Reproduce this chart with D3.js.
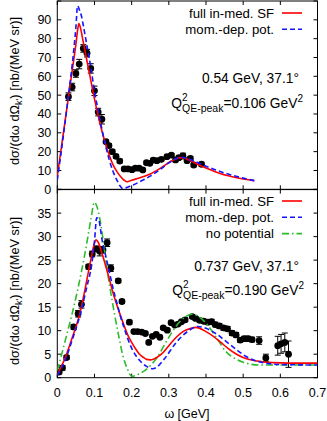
<!DOCTYPE html>
<html><head><meta charset="utf-8">
<script src="https://cdn.jsdelivr.net/npm/d3@7"></script>
<style>body{margin:0;background:#fff}svg{display:block}text{font-family:"Liberation Sans",Arial,sans-serif;fill:#000}</style>
</head><body>
<script>
// ---------- data ----------
const xTicks = [0,0.1,0.2,0.3,0.4,0.5,0.6,0.7];
const xTickLabels = ["0","0.1","0.2","0.3","0.4","0.5","0.6","0.7"];
const topYTicks = [0,10,20,30,40,50,60,70,80,90];
const botYTicks = [0,5,10,15,20,25,30,35];

// top panel: 0.54 GeV
const topDataW = [0.030,0.040,0.050,0.059,0.070,0.080,0.090,0.100,0.110,0.120,0.131,0.139,0.148,0.158,0.168,0.180,0.190,0.201,0.210,0.220,0.230,0.240,0.249,0.258,0.268,0.280,0.295,0.307,0.318,0.327,0.338,0.349,0.358,0.367,0.388];
const topDataV = [49.2,54.3,61.5,66.5,74.8,72.3,64.2,52.3,41.0,37.2,25.3,23.2,20.0,17.5,15.0,10.8,10.8,10.4,11.2,11.2,10.3,14.1,13.8,15.5,15.2,15.9,17.3,18.2,15.6,16.8,17.7,15.2,16.4,12.9,13.3];
const topDataE = [2,2,2,2.5,2,2,2.5,2.5,2,2.5,1,1,1,1,1,0.8,0.8,0.8,0.8,0.8,0.8,0.8,0.8,0.8,0.8,0.8,0.8,0.8,1,1,1.5,1,1,1,1];

const topRedW = [0,0.01,0.02,0.03,0.04,0.05,0.055,0.058,0.062,0.07,0.08,0.09,0.1,0.11,0.12,0.13,0.14,0.15,0.16,0.17,0.18,0.188,0.2,0.22,0.25,0.28,0.3,0.32,0.33,0.34,0.36,0.38,0.4,0.44,0.48,0.53];
const topRedV = [7,21,35,49,63,77,85,88,86,78,68,58,48,39,31,24,18,13,9.5,6.8,4.8,4.0,4.8,6.0,8.1,11.5,14.2,16.2,16.8,16.6,15.0,13.0,11.3,8.3,6.3,4.6];
const topBlueW = [0,0.01,0.02,0.03,0.04,0.05,0.0546,0.06,0.065,0.07,0.08,0.09,0.1,0.11,0.12,0.13,0.14,0.15,0.16,0.17,0.175,0.18,0.2,0.22,0.25,0.28,0.3,0.32,0.335,0.35,0.38,0.4,0.44,0.49,0.53];
const topBlueV = [5,19,34,50,66,86,97.5,95,92,87,76,65,52,42,32,23,15.5,9.5,5,1.5,0.5,0.6,2,3.8,7,11,14,16.3,17,16.3,14,12.3,9.3,6.4,4.6];

// bottom panel: 0.737 GeV
const botDataW = [0.005,0.014,0.025,0.044,0.056,0.065,0.084,0.094,0.105,0.114,0.123,0.134,0.144,0.164,0.174,0.194,0.206,0.216,0.227,0.237,0.246,0.256,0.266,0.276,0.285,0.296,0.306,0.316,0.325,0.334,0.344,0.363,0.372,0.383,0.394,0.405,0.415,0.425,0.436,0.447,0.458,0.470,0.481,0.492,0.503,0.513,0.524,0.543,0.561,0.593,0.602,0.612,0.622];
const botDataV = [1.2,2.1,4.3,10.8,13.6,15.6,23.6,26.3,27.4,26.9,27.2,28.7,23.3,20.6,16.2,11.8,9.8,9.8,9.7,9.4,7.5,8.8,9.2,8.6,10.6,10.1,11.7,11.2,11.4,11.9,12.3,13.0,12.6,12.2,12.0,11.8,11.9,11.3,11.0,10.6,10.4,9.5,9.1,8.0,8.3,8.3,8.1,7.9,4.2,6.8,7.2,7.5,5.0];
const botDataE = [0.4,0.5,0.4,0.5,0.7,0.8,0.5,0.6,0.6,1.0,0.7,0.8,0.7,0.4,0.4,0.4,0.3,0.3,0.3,0.3,0.3,0.3,0.3,0.3,0.3,0.3,0.3,0.3,0.3,0.3,0.4,0.4,0.4,0.4,0.4,0.5,0.5,0.5,0.5,0.5,0.5,0.5,0.5,0.5,0.5,0.5,0.5,0.8,0.8,2.0,2.0,2.0,2.8];

const botRedW = [0,0.02,0.04,0.06,0.07,0.08,0.09,0.1,0.104,0.11,0.12,0.13,0.14,0.15,0.16,0.17,0.18,0.19,0.2,0.21,0.22,0.23,0.24,0.25,0.26,0.28,0.3,0.32,0.34,0.36,0.372,0.38,0.4,0.42,0.44,0.46,0.48,0.5,0.52,0.55,0.58,0.62,0.7];
const botRedV = [0.7,4,8.5,13.5,17,21,25,28.6,29.3,28.8,26.5,23.8,21,18,15.5,13.2,11,9,7.5,6.2,5.1,4.4,3.9,3.8,4.0,5.0,6.8,8.6,9.9,10.5,10.7,10.6,9.8,8.8,7.5,6.2,5.1,4.3,3.8,3.4,3.2,3.1,3.1];
const botBlueW = [0,0.02,0.04,0.06,0.08,0.092,0.1,0.106,0.112,0.12,0.13,0.14,0.15,0.16,0.17,0.18,0.19,0.2,0.22,0.24,0.257,0.27,0.29,0.32,0.35,0.378,0.4,0.43,0.454,0.48,0.5,0.52,0.543,0.57,0.6,0.7];
const botBlueV = [0.5,3.5,8,13,19.5,23.8,29,34,33.5,29.5,26,22.5,19,16,13,10.5,8.2,6.3,3.8,2.4,1.9,2.4,4.2,7.5,9.8,10.9,10.5,9.2,7.7,6.1,4.9,4.0,3.4,3.0,2.8,2.7];
const botGreenW = [0,0.025,0.05,0.078,0.09,0.1,0.106,0.114,0.122,0.131,0.142,0.154,0.165,0.176,0.188,0.2,0.22,0.247,0.27,0.292,0.32,0.345,0.362,0.38,0.4,0.43,0.454,0.48,0.5,0.543,0.6,0.7];
const botGreenV = [1.5,9,17,28,33.5,37.3,36.5,34,30,24.7,19,13.5,9,4.8,2,0.3,0.8,2.3,4.5,7.5,11,13,13.5,13,11.6,8.3,5.5,4,3.3,2.7,2.7,2.7];

const legendTop = ["full in-med. SF","mom.-dep. pot."];
const legendBot = ["full in-med. SF","mom.-dep. pot.","no potential"];

// ---------- drawing ----------
const W=327,H=421;
const svg=d3.select("body").append("svg").attr("width",W).attr("height",H);
const X0=57.3, X1=317.5;
const x=d3.scaleLinear().domain([0,0.7]).range([X0,X1]);
const yTop=d3.scaleLinear().domain([0,100]).range([189.3,1]);
const yBot=d3.scaleLinear().domain([0,40]).range([377.7,189.6]);
const RED="#ff0000", BLUE="#1515ff", GREEN="#2dbb2d";
const FS=12.5, FL=13.2, FA=13.8;

function zip(a,b){return a.map((v,i)=>[v,b[i]]);}

function panel(y,yticks,id){
  const g=svg.append("g");
  svg.append("clipPath").attr("id",id).append("rect")
    .attr("x",X0).attr("y",y.range()[1]).attr("width",X1-X0).attr("height",y.range()[0]-y.range()[1]);
  const tl=4;
  const allY=d3.range(y.domain()[0],y.domain()[1]+0.001,yticks[1]-yticks[0]);
  allY.forEach(v=>{
    g.append("line").attr("x1",X0).attr("x2",X0+tl).attr("y1",y(v)).attr("y2",y(v)).attr("stroke","#000");
    g.append("line").attr("x1",X1).attr("x2",X1-tl).attr("y1",y(v)).attr("y2",y(v)).attr("stroke","#000");
  });
  xTicks.forEach(v=>{
    g.append("line").attr("x1",x(v)).attr("x2",x(v)).attr("y1",y.range()[0]).attr("y2",y.range()[0]-tl).attr("stroke","#000");
    g.append("line").attr("x1",x(v)).attr("x2",x(v)).attr("y1",y.range()[1]).attr("y2",y.range()[1]+tl).attr("stroke","#000");
  });
  yticks.forEach(v=>{
    g.append("text").attr("x",X0-6).attr("y",y(v)).attr("dy","0.36em").attr("text-anchor","end")
      .attr("font-size",FS).text(v);
  });
  g.append("rect").attr("x",X0).attr("y",y.range()[1]).attr("width",X1-X0).attr("height",y.range()[0]-y.range()[1])
    .attr("fill","none").attr("stroke","#000").attr("stroke-width",1);
  return g;
}

function points(g,y,W_,V,E,clip){
  const pg=g.append("g").attr("clip-path",`url(#${clip})`);
  W_.forEach((w,i)=>{
    const cx=x(w), cy=y(V[i]);
    const y1=y(V[i]-E[i]), y2=y(V[i]+E[i]);
    pg.append("line").attr("x1",cx).attr("x2",cx).attr("y1",y1).attr("y2",y2).attr("stroke","#000");
    pg.append("line").attr("x1",cx-3).attr("x2",cx+3).attr("y1",y1).attr("y2",y1).attr("stroke","#000");
    pg.append("line").attr("x1",cx-3).attr("x2",cx+3).attr("y1",y2).attr("y2",y2).attr("stroke","#000");
    pg.append("circle").attr("cx",cx).attr("cy",cy).attr("r",3.4).attr("fill","#000");
  });
}
function curve(g,y,W_,V,color,dash,clip){
  const line=d3.line().x(d=>x(d[0])).y(d=>y(d[1])).curve(d3.curveMonotoneX);
  g.append("path").attr("clip-path",`url(#${clip})`).attr("d",line(zip(W_,V)))
    .attr("fill","none").attr("stroke",color).attr("stroke-width",1.6)
    .attr("stroke-dasharray",dash||null);
}
function legend(g,items,colors,dashes,y0){
  items.forEach((t,i)=>{
    const yy=y0+i*16.3;
    g.append("text").attr("x",274).attr("y",yy).attr("dy","0.36em").attr("text-anchor","end")
      .attr("font-size",FL).text(t);
    g.append("line").attr("x1",282).attr("x2",302).attr("y1",yy).attr("y2",yy)
      .attr("stroke",colors[i]).attr("stroke-width",1.6).attr("stroke-dasharray",dashes[i]||null);
  });
}
function qtext(g,xr,yb,val){
  // Q^2_{QE-peak}: superscript and subscript stacked, as separate texts
  const main=g.append("text").attr("x",xr).attr("y",yb).attr("text-anchor","end").attr("font-size",FA);
  main.append("tspan").text("="+val+" GeV");
  main.append("tspan").attr("font-size",10).attr("dy",-6.5).text("2");
  const mw=main.node().getComputedTextLength();
  const sub=g.append("text").attr("x",xr-mw).attr("y",yb+4).attr("text-anchor","end").attr("font-size",10.5).text("QE-peak");
  const sw=sub.node().getComputedTextLength();
  g.append("text").attr("x",xr-mw-sw).attr("y",yb-7).attr("text-anchor","start").attr("font-size",10).text("2");
  g.append("text").attr("x",xr-mw-sw).attr("y",yb).attr("text-anchor","end").attr("font-size",FA).text("Q");
}
function ytitle(cy){
  const t=svg.append("text").attr("transform",`translate(19,${cy}) rotate(-90)`).attr("text-anchor","middle").attr("font-size",FS+0.3);
  t.append("tspan").text("dσ/(dω dΩ");
  t.append("tspan").attr("font-size",9).attr("dy",3).text("k'");
  t.append("tspan").attr("dy",-3).text(")  [nb/(MeV sr)]");
}

// top panel
const gT=panel(yTop,topYTicks,"clipT");
points(gT,yTop,topDataW,topDataV,topDataE,"clipT");
curve(gT,yTop,topRedW,topRedV,RED,null,"clipT");
curve(gT,yTop,topBlueW,topBlueV,BLUE,"5,3","clipT");
legend(gT,legendTop,[RED,BLUE],[null,"5,3"],13);
gT.append("text").attr("x",299).attr("y",78).attr("dy","0.36em").attr("text-anchor","end").attr("font-size",FA).text("0.54 GeV, 37.1°");
qtext(gT,303,108,"0.106");
ytitle(91);

// bottom panel
const gB=panel(yBot,botYTicks,"clipB");
points(gB,yBot,botDataW,botDataV,botDataE,"clipB");
curve(gB,yBot,botGreenW,botGreenV,GREEN,"7,3,1.5,3","clipB");
curve(gB,yBot,botRedW,botRedV,RED,null,"clipB");
curve(gB,yBot,botBlueW,botBlueV,BLUE,"5,3","clipB");
legend(gB,legendBot,[RED,BLUE,GREEN],[null,"5,3","7,3,1.5,3"],201);
gB.append("text").attr("x",299).attr("y",266).attr("dy","0.36em").attr("text-anchor","end").attr("font-size",FA).text("0.737 GeV, 37.1°");
qtext(gB,304,295,"0.190");
ytitle(291);

// x axis labels
xTicks.forEach((v,i)=>{
  svg.append("text").attr("x",x(v)).attr("y",392).attr("dy","0.36em").attr("text-anchor","middle")
    .attr("font-size",FS).text(xTickLabels[i]);
});
svg.append("text").attr("x",187).attr("y",413).attr("dy","0.36em").attr("text-anchor","middle").attr("font-size",FS).text("ω [GeV]");
</script>
</body></html>
